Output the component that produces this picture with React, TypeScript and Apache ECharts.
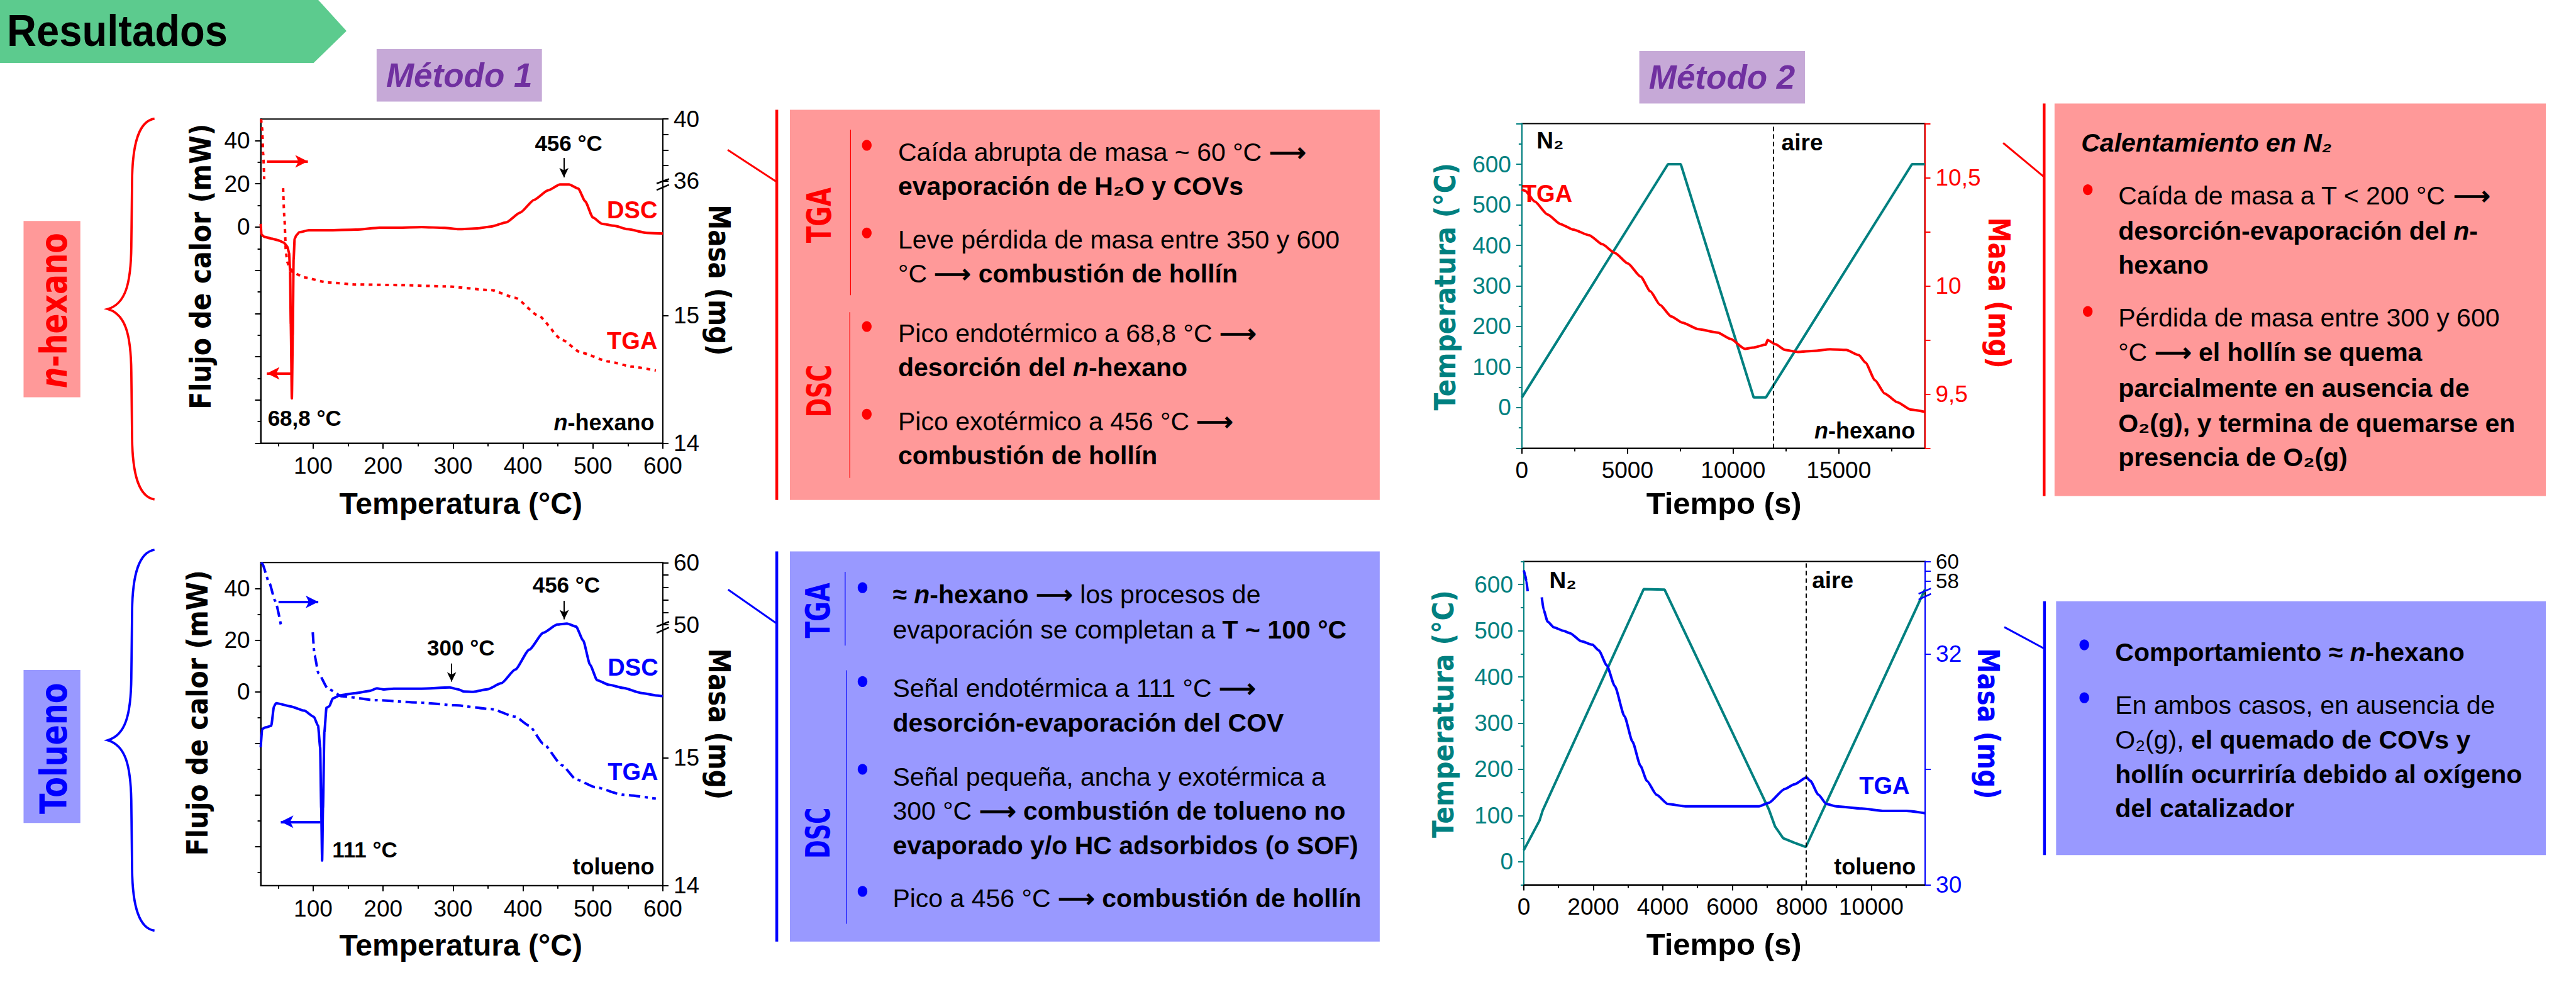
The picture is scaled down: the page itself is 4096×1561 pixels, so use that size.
import React, { useEffect, useRef } from 'react';
import * as echarts from 'echarts';

const S = 4096 / 6669;
const F = (v: number) => v * S;
const SANS = "'Liberation Sans', Arial, sans-serif";
const DJV = "'DejaVu Sans', Verdana, sans-serif";
const RED = '#FF0000';
const BLUE = '#0000FF';
const TEAL = '#008080';
const BLACK = '#000000';
const PINK = '#FF9999';
const LBLUE = '#9999FF';

// ---------------- Método 1 : n-hexano ----------------
const hexDscT = [25, 26, 30, 40, 50, 58, 63, 65.5, 67, 68, 69.5, 70.8, 72, 73.5, 76, 80, 94, 121, 161, 195, 221, 255, 288, 308, 335, 355, 376, 396, 416, 436, 453, 466, 479, 489, 500, 513, 530, 550, 577, 600];
const hexDscQ = [1.5, -3.5, -4.5, -5.3, -6.1, -7.2, -9.0, -12, -20, -45, -79.3, -50, -15, -5.5, -3.8, -2.4, -1.5, -1.5, -1.2, -0.3, -0.3, 0, -0.4, -1.0, -0.6, 0.3, 2.2, 6.7, 12.6, 17, 19.7, 19.7, 17.8, 11.9, 4.4, 1.5, 0.6, -1.0, -2.7, -3.0];
const hexTgaUpT = [25.5, 27, 28.5, 30];
const hexTgaUpM = [40, 39.4, 37.8, 36.1];
const hexTgaLoT = [57, 59, 61, 63, 66, 71, 87, 121, 161, 221, 288, 355, 389, 422, 456, 483, 523, 556, 590];
const hexTgaLoM = [16.0, 15.75, 15.5, 15.42, 15.38, 15.34, 15.30, 15.26, 15.245, 15.24, 15.23, 15.20, 15.14, 15.0, 14.81, 14.71, 14.64, 14.60, 14.57];

// ---------------- Método 1 : tolueno ----------------
const tolDscT = [25, 27, 32, 40, 44, 47, 67, 87, 101, 107, 110, 111.5, 112.8, 114, 116, 119, 123, 128, 138, 161, 181, 191, 201, 215, 255, 295, 308, 315, 329, 349, 369, 389, 409, 429, 449, 463, 476, 486, 496, 506, 523, 543, 570, 590, 600];
const tolDscQ = [-21.5, -14.4, -13.8, -13.2, -5.6, -4.4, -5.6, -7.3, -9.7, -13.2, -21.5, -45, -65.3, -45, -15.6, -6.2, -5.6, -2.6, -1.4, -0.5, 0.35, 1.3, 0.9, 1.2, 1.2, 1.65, 0.9, 0.1, 0, 0.95, 3.3, 8.6, 16.3, 22.8, 26, 26.4, 25.2, 19.9, 10.4, 4.5, 2.7, 1.5, -0.5, -1.4, -1.7];
const tolTgaUpT = [25.5, 27, 37, 45.8, 53.8];
const tolTgaUpM = [60, 59.85, 56.8, 53.8, 50.0];
const tolTgaLoT = [99.4, 102, 107.5, 121, 141, 188, 255, 302, 355, 389, 409, 429, 456, 476, 503, 543, 590];
const tolTgaLoM = [15.98, 15.80, 15.66, 15.54, 15.48, 15.45, 15.43, 15.41, 15.38, 15.32, 15.25, 15.11, 14.94, 14.83, 14.77, 14.71, 14.68];

// ---------------- Método 2 : n-hexano ----------------
const m2HexTime = [0, 6915, 7523, 10973, 11550, 18465, 19073];
const m2HexTemp = [25, 600, 600, 25, 25, 600, 600];
const m2HexTgaTime = [0, 152, 608, 1216, 1824, 2432, 3191, 3799, 4407, 5015, 5623, 6079, 6535, 7067, 7599, 8359, 9271, 9878, 10562, 10942, 11550, 11626, 12006, 12462, 13070, 13830, 14590, 15350, 15957, 16261, 16717, 17173, 17781, 18389, 19073];
const m2HexTgaMass = [10.446, 10.44, 10.39, 10.33, 10.286, 10.26, 10.234, 10.193, 10.152, 10.104, 10.043, 9.975, 9.913, 9.859, 9.83, 9.80, 9.784, 9.755, 9.709, 9.715, 9.729, 9.75, 9.73, 9.704, 9.695, 9.70, 9.707, 9.704, 9.68, 9.646, 9.564, 9.503, 9.462, 9.429, 9.418];
const m2HexAirTime = 11900;

// ---------------- Método 2 : tolueno ----------------
const m2TolTime = [0, 452, 544, 3450, 4050, 7048, 7232, 7463, 7786, 8118, 11550];
const m2TolTemp = [25, 89, 111, 590, 589, 114, 76, 51, 41, 32, 590];
const m2TolTgaUpTime = [0, 40, 74, 111];
const m2TolTgaUpMass = [59.1, 58.6, 58.0, 57.0];
const m2TolTgaLoTime = [517, 572, 683, 867, 1144, 1328, 1651, 1974, 2159, 2389, 2620, 2897, 3127, 3358, 3542, 3819, 4142, 4649, 5572, 6494, 6771, 7048, 7509, 7786, 8136, 8247, 8478, 8708, 8985, 9723, 10369, 11015, 11550];
const m2TolTgaLoMass = [32.49, 32.38, 32.28, 32.23, 32.20, 32.18, 32.11, 32.08, 32.03, 31.90, 31.72, 31.46, 31.24, 31.03, 30.90, 30.78, 30.70, 30.68, 30.68, 30.68, 30.68, 30.71, 30.83, 30.87, 30.93, 30.90, 30.78, 30.70, 30.68, 30.66, 30.64, 30.64, 30.62];
const m2TolAirTime = 8120;

// ---------------- tick values ----------------
const m1TempTicks = [100, 200, 300, 400, 500, 600];
const m1TempMinor = [50, 150, 250, 350, 450, 550];
const m1FlowLabels = [0, 20, 40];
const hexFlowMajor = [-100, -80, -60, -40, -20, 0, 20, 40];
const hexFlowMinor = [-90, -70, -50, -30, -10, 10, 30];
const tolFlowMajor = [-60, -40, -20, 0, 20, 40];
const tolFlowMinor = [-70, -50, -30, -10, 10, 30];
const hexMassUpLabels = [36, 40];
const hexMassUpTicks = [36, 37, 38, 39, 40];
const m1MassLoLabels = [14, 15];
const tolMassUpLabels = [50, 60];
const tolMassUpTicks = [50, 52, 54, 56, 58, 60];
const m2HexTimeLabels = [0, 5000, 10000, 15000];
const m2HexTimeMinor = [2500, 7500, 12500, 17500];
const m2TolTimeLabels = [0, 2000, 4000, 6000, 8000, 10000];
const m2TolTimeMinor = [1000, 3000, 5000, 7000, 9000, 11000];
const m2TempLabels = [0, 100, 200, 300, 400, 500, 600];
const m2HexTempMajor = [-100, 0, 100, 200, 300, 400, 500, 600, 700];
const m2HexTempMinor = [-50, 50, 150, 250, 350, 450, 550, 650];
const m2TolTempMinor = [-50, 50, 150, 250, 350, 450, 550, 650];
const m2HexMassLabels = [9.5, 10, 10.5];
const m2HexMassTicks = [9.25, 9.5, 9.75, 10, 10.25, 10.5, 10.75];
const m2TolMassUpTopLabel = [60];
const m2TolMassUpLowLabel = [58];
const m2TolMassUpTicks = [58, 59, 60];
const m2TolMassLoLabels = [30, 32];
const m2TolMassLoTicks = [30, 31, 32];

// ---------------- texts of the boxes ----------------
type Seg = [string, string];
const box1Lines: Seg[][] = [
  [['n', 'Caída abrupta de masa ~ 60 °C '], ['b', '⟶']],
  [['b', 'evaporación de H₂O y COVs']],
  [['n', 'Leve pérdida de masa entre 350 y 600']],
  [['n', '°C '], ['b', '⟶ combustión de hollín']],
  [['n', 'Pico endotérmico a 68,8 °C '], ['b', '⟶']],
  [['b', 'desorción del '], ['bi', 'n'], ['b', '-hexano']],
  [['n', 'Pico exotérmico a 456 °C '], ['b', '⟶']],
  [['b', 'combustión de hollín']],
];
const box1Y = [394, 482, 621, 709, 863, 951, 1091, 1179];
const box1Bullets = [376, 603, 845, 1072];

const box2Lines: Seg[][] = [
  [['b', '≈ '], ['bi', 'n'], ['b', '-hexano ⟶ '], ['n', 'los procesos de']],
  [['n', 'evaporación se completan a '], ['b', 'T ~ 100 °C']],
  [['n', 'Señal endotérmica a 111 °C '], ['b', '⟶']],
  [['b', 'desorción-evaporación del COV']],
  [['n', 'Señal pequeña, ancha y exotérmica a']],
  [['n', '300 °C '], ['b', '⟶ combustión de tolueno no']],
  [['b', 'evaporado y/o HC adsorbidos (o SOF)']],
  [['n', 'Pico a 456 °C '], ['b', '⟶ combustión de hollín']],
];
const box2Y = [1539, 1629, 1781, 1870, 2010, 2099, 2189, 2325];
const box2Bullets = [1521, 1764, 1991, 2307];

const box3Lines: Seg[][] = [
  [['n', 'Caída de masa a T < 200 °C '], ['b', '⟶']],
  [['b', 'desorción-evaporación del '], ['bi', 'n'], ['b', '-']],
  [['b', 'hexano']],
  [['n', 'Pérdida de masa entre 300 y 600']],
  [['n', '°C '], ['b', '⟶ el hollín se quema']],
  [['b', 'parcialmente en ausencia de']],
  [['b', 'O₂(g), y termina de quemarse en']],
  [['b', 'presencia de O₂(g)']],
];
const box3Y = [507, 597, 685, 823, 912, 1004, 1096, 1183];
const box3Bullets = [491, 806];

const box4Lines: Seg[][] = [
  [['b', 'Comportamiento ≈ '], ['bi', 'n'], ['b', '-hexano']],
  [['n', 'En ambos casos, en ausencia de']],
  [['n', 'O₂(g), '], ['b', 'el quemado de COVs y']],
  [['b', 'hollín ocurriría debido al oxígeno']],
  [['b', 'del catalizador']],
];
const box4Y = [1688, 1825, 1915, 2004, 2093];
const box4Bullets = [1669, 1806];

const BRACE_D = 'M121,0 C82,6 64,60 63,160 L61,330 C60,430 45,480 0,493 C45,506 60,556 61,656 L63,826 C64,926 82,980 121,986';
echarts.graphic.registerShape('brace', echarts.graphic.extendPath(BRACE_D, {}));

const zip = (a: number[], b: number[]) => a.map((v, i) => [v, b[i]]);
const comma = (v: number) => String(v).replace('.', ',');

function txt(x: number, y: number, segs: Seg[], size: number, color: string, o: any = {}) {
  const fam = o.family || SANS;
  const base: any = {
    n: { fontWeight: 'normal', fontStyle: 'normal' },
    b: { fontWeight: 'bold', fontStyle: 'normal' },
    bi: { fontWeight: 'bold', fontStyle: 'italic' },
    i: { fontWeight: 'normal', fontStyle: 'italic' },
  };
  const rich: any = {};
  Object.keys(base).forEach((k) => {
    rich[k] = { ...base[k], fontFamily: fam, fontSize: size, fill: color };
  });
  return {
    type: 'text',
    x: F(x),
    y: F(y),
    rotation: o.rot || 0,
    scaleX: o.sx || 1,
    scaleY: o.sy || 1,
    z: 20,
    silent: true,
    style: {
      text: segs.map(([k, s]) => `{${k}|${s}}`).join(''),
      rich,
      fontFamily: fam,
      fontSize: size,
      fill: color,
      textAlign: o.align || 'left',
      textVerticalAlign: 'middle',
    },
  };
}

function buildOption() {
  const grid: any[] = [];
  const xAxis: any[] = [];
  const yAxis: any[] = [];
  const series: any[] = [];
  const G: any[] = [];

  const addGrid = (l: number, t: number, r: number, b: number, border: boolean) => {
    grid.push({ left: F(l), top: F(t), width: F(r - l), height: F(b - t), show: border, borderColor: BLACK, borderWidth: 2, backgroundColor: 'rgba(0,0,0,0)' });
    return grid.length - 1;
  };

  const labelStyle = (c: any, labels: number[]) => ({
    show: true,
    customValues: labels,
    hideOverlap: false,
    color: c.labelColor || c.color,
    fontFamily: SANS,
    fontSize: c.fontSize || 37,
    lineHeight: c.lineHeight || undefined,
    margin: c.margin || 17,
    formatter: (v: number) => comma(v),
  });

  const addAxis = (list: any[], c: any) => {
    const base = { type: 'value', gridIndex: c.grid, min: c.min, max: c.max, position: c.pos, splitLine: { show: false } };
    const idx = list.length;
    if (c.hidden) {
      list.push({ ...base, show: false });
      return idx;
    }
    list.push({
      ...base,
      axisLine: { show: true, onZero: false, lineStyle: { color: c.color, width: 2 } },
      axisTick: { show: !!c.majors, inside: false, length: 9, customValues: c.majors, lineStyle: { color: c.color, width: 2 } },
      axisLabel: c.labels ? labelStyle(c, c.labels) : { show: false },
    });
    if (c.minors) {
      list.push({
        ...base,
        axisLine: { show: false, onZero: false },
        axisLabel: { show: false },
        axisTick: { show: true, inside: false, length: 5, customValues: c.minors, lineStyle: { color: c.color, width: 2 } },
      });
    }
    if (c.extraLabels) {
      list.push({
        ...base,
        axisLine: { show: false, onZero: false },
        axisTick: { show: false },
        axisLabel: labelStyle(c, c.extraLabels),
      });
    }
    return idx;
  };

  const addLine = (xi: number, yi: number, xs: number[], ys: number[], color: string, type: any, smooth: any, extra: any = {}) => {
    series.push({
      type: 'line', xAxisIndex: xi, yAxisIndex: yi, data: zip(xs, ys), symbol: 'none', showSymbol: false,
      smooth, smoothMonotone: 'x', clip: true, silent: true,
      lineStyle: { color, width: 4, type, cap: 'butt' }, itemStyle: { color }, emphasis: { disabled: true },
      ...extra,
    });
  };

  const arrow = (from: number[], to: number[], color: string, big: boolean) => {
    const ls = { color, width: big ? 4 : 2, type: 'solid' };
    return [
      { coord: from, symbol: 'none', lineStyle: ls },
      { coord: to, symbol: 'arrow', symbolSize: big ? [15, 20] : [11, 15], lineStyle: ls },
    ];
  };
  const mkArrows = (data: any[]) => ({
    silent: true, symbol: ['none', 'arrow'], label: { show: false }, emphasis: { disabled: true }, animation: false, data,
  });
  const mkVLine = (x: number) => ({
    silent: true, symbol: ['none', 'none'], label: { show: false }, emphasis: { disabled: true }, animation: false,
    lineStyle: { color: BLACK, width: 2, type: [7, 5] }, data: [{ xAxis: x }],
  });

  // ---------- Método 1, n-hexano ----------
  const g0 = addGrid(675, 308, 1716, 1147, true);
  const g1 = addGrid(675, 308, 1716, 468, false);
  const g2 = addGrid(675, 487, 1716, 1147, false);
  const x0 = addAxis(xAxis, { grid: g0, min: 25, max: 600, pos: 'bottom', color: BLACK, labels: m1TempTicks, majors: m1TempTicks, minors: m1TempMinor, margin: 18 });
  const x1 = addAxis(xAxis, { grid: g1, min: 25, max: 600, pos: 'bottom', hidden: true });
  const x2 = addAxis(xAxis, { grid: g2, min: 25, max: 600, pos: 'bottom', hidden: true });
  const y0 = addAxis(yAxis, { grid: g0, min: -100, max: 50, pos: 'left', color: BLACK, labels: m1FlowLabels, majors: hexFlowMajor, minors: hexFlowMinor });
  const y1 = addAxis(yAxis, { grid: g1, min: 36, max: 40, pos: 'right', color: BLACK, labels: hexMassUpLabels, majors: hexMassUpTicks });
  const y2 = addAxis(yAxis, { grid: g2, min: 14, max: 16, pos: 'right', color: BLACK, labels: m1MassLoLabels, majors: m1MassLoLabels });
  addLine(x0, y0, hexDscT, hexDscQ, RED, 'solid', 0.2, {
    markLine: mkArrows([
      arrow([33.8, 30.4], [92.4, 30.4], RED, true),
      arrow([68.6, -67.7], [33.8, -67.7], RED, true),
      arrow([458.6, 32], [458.6, 23], BLACK, false),
    ]),
  });
  addLine(x1, y1, hexTgaUpT, hexTgaUpM, RED, [6, 7], 0.2);
  addLine(x2, y2, hexTgaLoT, hexTgaLoM, RED, [6, 7], 0.2);

  // ---------- Método 1, tolueno ----------
  const g3 = addGrid(675, 1456, 1716, 2292, true);
  const g4 = addGrid(675, 1456, 1716, 1617, false);
  const g5 = addGrid(675, 1630, 1716, 2292, false);
  const x3 = addAxis(xAxis, { grid: g3, min: 25, max: 600, pos: 'bottom', color: BLACK, labels: m1TempTicks, majors: m1TempTicks, minors: m1TempMinor, margin: 18 });
  const x4 = addAxis(xAxis, { grid: g4, min: 25, max: 600, pos: 'bottom', hidden: true });
  const x5 = addAxis(xAxis, { grid: g5, min: 25, max: 600, pos: 'bottom', hidden: true });
  const y3 = addAxis(yAxis, { grid: g3, min: -75, max: 50, pos: 'left', color: BLACK, labels: m1FlowLabels, majors: tolFlowMajor, minors: tolFlowMinor });
  const y4 = addAxis(yAxis, { grid: g4, min: 50, max: 60, pos: 'right', color: BLACK, labels: tolMassUpLabels, majors: tolMassUpTicks });
  const y5 = addAxis(yAxis, { grid: g5, min: 14, max: 16, pos: 'right', color: BLACK, labels: m1MassLoLabels, majors: m1MassLoLabels });
  addLine(x3, y3, tolDscT, tolDscQ, BLUE, 'solid', 0.2, {
    markLine: mkArrows([
      arrow([50.4, 34.8], [107.3, 34.8], BLUE, true),
      arrow([110.6, -50.3], [53.7, -50.3], BLUE, true),
      arrow([459, 35.2], [459, 28], BLACK, false),
      arrow([298, 10.9], [298, 3.9], BLACK, false),
    ]),
  });
  addLine(x4, y4, tolTgaUpT, tolTgaUpM, BLUE, [18, 7, 5, 7], 0.2);
  addLine(x5, y5, tolTgaLoT, tolTgaLoM, BLUE, [18, 7, 5, 7], 0.2);

  // ---------- Método 2, n-hexano ----------
  const g6 = addGrid(3940, 320, 4983, 1160, true);
  const x6 = addAxis(xAxis, { grid: g6, min: 0, max: 19070, pos: 'bottom', color: BLACK, labels: m2HexTimeLabels, majors: m2HexTimeLabels, minors: m2HexTimeMinor, margin: 17 });
  const y6 = addAxis(yAxis, { grid: g6, min: -100, max: 700, pos: 'left', color: TEAL, labels: m2TempLabels, majors: m2HexTempMajor, minors: m2HexTempMinor });
  const y6r = addAxis(yAxis, { grid: g6, min: 9.25, max: 10.75, pos: 'right', color: RED, labels: m2HexMassLabels, majors: m2HexMassTicks });
  addLine(x6, y6, m2HexTime, m2HexTemp, TEAL, 'solid', false, { markLine: mkVLine(m2HexAirTime) });
  addLine(x6, y6r, m2HexTgaTime, m2HexTgaMass, RED, 'solid', 0.2);

  // ---------- Método 2, tolueno ----------
  const g7 = addGrid(3945, 1453, 4984, 2290, true);
  const g8 = addGrid(3945, 1453, 4984, 1530, false);
  const g9 = addGrid(3945, 1543, 4984, 2290, false);
  const x7 = addAxis(xAxis, { grid: g7, min: 0, max: 11550, pos: 'bottom', color: BLACK, labels: m2TolTimeLabels, majors: m2TolTimeLabels, minors: m2TolTimeMinor, margin: 17 });
  const x8 = addAxis(xAxis, { grid: g8, min: 0, max: 11550, pos: 'bottom', hidden: true });
  const x9 = addAxis(xAxis, { grid: g9, min: 0, max: 11550, pos: 'bottom', hidden: true });
  const y7 = addAxis(yAxis, { grid: g7, min: -50, max: 650, pos: 'left', color: TEAL, labels: m2TempLabels, majors: m2TempLabels, minors: m2TolTempMinor });
  const y8 = addAxis(yAxis, {
    grid: g8, min: 57, max: 60, pos: 'right', color: BLUE, labelColor: BLACK, fontSize: 33, lineHeight: 29,
    labels: m2TolMassUpTopLabel, extraLabels: m2TolMassUpLowLabel, majors: m2TolMassUpTicks,
  });
  const y9 = addAxis(yAxis, { grid: g9, min: 30, max: 32.5, pos: 'right', color: BLUE, labels: m2TolMassLoLabels, majors: m2TolMassLoTicks });
  addLine(x7, y7, m2TolTime, m2TolTemp, TEAL, 'solid', false, { markLine: mkVLine(m2TolAirTime) });
  addLine(x8, y8, m2TolTgaUpTime, m2TolTgaUpMass, BLUE, 'solid', 0.2);
  addLine(x9, y9, m2TolTgaLoTime, m2TolTgaLoMass, BLUE, 'solid', 0.2);

  // ---------- graphic: header ----------
  const P = (pts: number[][]) => pts.map((p) => [F(p[0]), F(p[1])]);
  const rect = (x: number, y: number, w: number, h: number, fill: string) =>
    ({ type: 'rect', silent: true, shape: { x: F(x), y: F(y), width: F(w), height: F(h) }, style: { fill } });
  const seg = (x1: number, y1: number, x2: number, y2: number, stroke: string, w: number) =>
    ({ type: 'line', silent: true, z: 15, shape: { x1: F(x1), y1: F(y1), x2: F(x2), y2: F(y2) }, style: { stroke, lineWidth: w } });
  const dot = (x: number, y: number, fill: string) =>
    ({ type: 'ellipse', silent: true, z: 15, shape: { cx: F(x), cy: F(y), rx: F(12.5), ry: F(14) }, style: { fill } });

  G.push({ type: 'polygon', silent: true, shape: { points: P([[0, 0], [824, 0], [897, 80], [812, 163], [0, 163]]) }, style: { fill: '#5CCB8E' } });
  G.push(txt(18, 80, [['b', 'Resultados']], 70, BLACK, { sx: 0.93 }));
  G.push(rect(975, 127, 428, 136, '#C6A9D7'));
  G.push(txt(1189, 195, [['bi', 'Método 1']], 53, '#7030A0', { align: 'center' }));
  G.push(rect(4244, 132, 429, 136, '#C6A9D7'));
  G.push(txt(4458, 200, [['bi', 'Método 2']], 53, '#7030A0', { align: 'center' }));

  // side labels and braces
  G.push(rect(61, 572, 147, 456, PINK));
  G.push(txt(140, 804, [['bi', 'n'], ['b', '-hexano']], 59, RED, { family: DJV, rot: Math.PI / 2, sx: 0.8, align: 'center' }));
  G.push(rect(61, 1734, 147, 396, LBLUE));
  G.push(txt(140, 1937, [['b', 'Tolueno']], 59, BLUE, { family: DJV, rot: Math.PI / 2, sx: 0.81, align: 'center' }));
  G.push({ type: 'brace', silent: true, x: F(279), y: F(307), scaleX: S, scaleY: S, style: { stroke: RED, fill: 'none', lineWidth: 6 } });
  G.push({ type: 'brace', silent: true, x: F(279), y: F(1423), scaleX: S, scaleY: S, style: { stroke: BLUE, fill: 'none', lineWidth: 6 } });

  // axis titles, Método 1
  G.push(txt(518, 690, [['b', 'Flujo de calor (mW)']], 47, BLACK, { family: DJV, rot: Math.PI / 2, sx: 0.874, align: 'center' }));
  G.push(txt(510, 1845, [['b', 'Flujo de calor (mW)']], 47, BLACK, { family: DJV, rot: Math.PI / 2, sx: 0.874, align: 'center' }));
  G.push(txt(1862, 725, [['b', 'Masa (mg)']], 48, BLACK, { family: DJV, rot: -Math.PI / 2, sx: 0.84, align: 'center' }));
  G.push(txt(1862, 1874, [['b', 'Masa (mg)']], 48, BLACK, { family: DJV, rot: -Math.PI / 2, sx: 0.84, align: 'center' }));
  G.push(txt(1193, 1303, [['b', 'Temperatura (°C)']], 48, BLACK, { align: 'center' }));
  G.push(txt(1193, 2447, [['b', 'Temperatura (°C)']], 48, BLACK, { align: 'center' }));

  // axis titles, Método 2
  G.push(txt(3741, 742, [['b', 'Temperatura (°C)']], 47, TEAL, { family: DJV, rot: Math.PI / 2, sx: 0.865, align: 'center' }));
  G.push(txt(3735, 1848, [['b', 'Temperatura (°C)']], 47, TEAL, { family: DJV, rot: Math.PI / 2, sx: 0.865, align: 'center' }));
  G.push(txt(5175, 758, [['b', 'Masa (mg)']], 48, RED, { family: DJV, rot: -Math.PI / 2, sx: 0.84, align: 'center' }));
  G.push(txt(5148, 1873, [['b', 'Masa (mg)']], 48, BLUE, { family: DJV, rot: -Math.PI / 2, sx: 0.84, align: 'center' }));
  G.push(txt(4463, 1302, [['b', 'Tiempo (s)']], 49, BLACK, { align: 'center' }));
  G.push(txt(4463, 2444, [['b', 'Tiempo (s)']], 49, BLACK, { align: 'center' }));

  // annotations, Método 1
  G.push(txt(1472, 371, [['b', '456 °C']], 35, BLACK, { align: 'center' }));
  G.push(txt(1702, 543, [['b', 'DSC']], 38, RED, { align: 'right' }));
  G.push(txt(1702, 883, [['b', 'TGA']], 38, RED, { align: 'right' }));
  G.push(txt(693, 1082, [['b', '68,8 °C']], 35, BLACK));
  G.push(txt(1694, 1093, [['bi', 'n'], ['b', '-hexano']], 36, BLACK, { align: 'right' }));
  G.push(txt(1466, 1514, [['b', '456 °C']], 35, BLACK, { align: 'center' }));
  G.push(txt(1193, 1676, [['b', '300 °C']], 35, BLACK, { align: 'center' }));
  G.push(txt(860, 2199, [['b', '111 °C']], 35, BLACK));
  G.push(txt(1694, 2242, [['b', 'tolueno']], 36, BLACK, { align: 'right' }));
  G.push(txt(1704, 1728, [['b', 'DSC']], 38, BLUE, { align: 'right' }));
  G.push(txt(1704, 1997, [['b', 'TGA']], 38, BLUE, { align: 'right' }));

  // annotations, Método 2
  G.push(txt(3978, 364, [['b', 'N₂']], 37, BLACK));
  G.push(txt(4612, 368, [['b', 'aire']], 37, BLACK));
  G.push(txt(3940, 502, [['b', 'TGA']], 38, RED));
  G.push(txt(4958, 1114, [['bi', 'n'], ['b', '-hexano']], 36, BLACK, { align: 'right' }));
  G.push(txt(4011, 1502, [['b', 'N₂']], 37, BLACK));
  G.push(txt(4691, 1502, [['b', 'aire']], 37, BLACK));
  G.push(txt(4944, 2034, [['b', 'TGA']], 38, BLUE, { align: 'right' }));
  G.push(txt(4960, 2243, [['b', 'tolueno']], 36, BLACK, { align: 'right' }));

  // axis break marks
  G.push(seg(1700, 475, 1732, 463, BLACK, 2.5), seg(1700, 492, 1732, 478, BLACK, 2.5));
  G.push(seg(1700, 1622, 1732, 1609, BLACK, 2.5), seg(1700, 1638, 1732, 1624, BLACK, 2.5));
  G.push(seg(4967, 1537, 4999, 1523, BLUE, 2.5), seg(4967, 1552, 4999, 1537, BLUE, 2.5));

  // connectors
  G.push(seg(1884, 388, 2011, 471, RED, 3), seg(2011, 284, 2011, 1294, RED, 4.5));
  G.push(seg(1885, 1526, 2011, 1614, BLUE, 3), seg(2011, 1427, 2011, 2437, BLUE, 4.5));
  G.push(seg(5186, 370, 5292, 458, RED, 3), seg(5292, 268, 5292, 1284, RED, 4.5));
  G.push(seg(5189, 1623, 5293, 1679, BLUE, 3), seg(5293, 1556, 5293, 2213, BLUE, 4.5));

  // box 1 (pink, TGA / DSC n-hexano)
  G.push(rect(2045, 284, 1527, 1010, PINK));
  G.push(txt(2121, 557, [['b', 'TGA']], 53, RED, { family: DJV, rot: Math.PI / 2, sx: 0.73, align: 'center' }));
  G.push(txt(2121, 1012, [['b', 'DSC']], 53, RED, { family: DJV, rot: Math.PI / 2, sx: 0.69, align: 'center' }));
  G.push(seg(2202, 336, 2202, 764, RED, 1.2), seg(2200, 808, 2200, 1237, RED, 1.2));
  box1Bullets.forEach((y) => G.push(dot(2244, y, RED)));
  box1Lines.forEach((l, i) => G.push(txt(2325, box1Y[i], l, 41, BLACK)));

  // box 2 (blue, tolueno)
  G.push(rect(2045, 1427, 1527, 1010, LBLUE));
  G.push(txt(2118, 1580, [['b', 'TGA']], 53, BLUE, { family: DJV, rot: Math.PI / 2, sx: 0.73, align: 'center' }));
  G.push(txt(2118, 2156, [['b', 'DSC']], 53, BLUE, { family: DJV, rot: Math.PI / 2, sx: 0.67, align: 'center' }));
  G.push(seg(2188, 1480, 2188, 1671, BLUE, 1.2), seg(2192, 1735, 2192, 2391, BLUE, 1.2));
  box2Bullets.forEach((y) => G.push(dot(2233, y, BLUE)));
  box2Lines.forEach((l, i) => G.push(txt(2311, box2Y[i], l, 41, BLACK)));

  // box 3 (pink, Método 2 n-hexano)
  G.push(rect(5319, 268, 1272, 1016, PINK));
  G.push(txt(5388, 370, [['bi', 'Calentamiento en N₂']], 41, BLACK));
  box3Bullets.forEach((y) => G.push(dot(5405, y, RED)));
  box3Lines.forEach((l, i) => G.push(txt(5484, box3Y[i], l, 41, BLACK)));

  // box 4 (blue, Método 2 tolueno)
  G.push(rect(5323, 1556, 1268, 657, LBLUE));
  box4Bullets.forEach((y) => G.push(dot(5396, y, BLUE)));
  box4Lines.forEach((l, i) => G.push(txt(5476, box4Y[i], l, 41, BLACK)));

  return {
    animation: false,
    backgroundColor: '#ffffff',
    grid,
    xAxis,
    yAxis,
    series,
    graphic: G,
  };
}

export default function App() {
  const ref = useRef<HTMLDivElement>(null);
  useEffect(() => {
    const chart = echarts.init(ref.current as HTMLDivElement, null, { renderer: 'svg' });
    chart.setOption(buildOption() as any);
    return () => chart.dispose();
  }, []);
  return (
    <div
      ref={ref}
      style={{ position: 'absolute', left: 0, top: 0, width: 4096, height: 1561, background: '#fff' }}
    />
  );
}
